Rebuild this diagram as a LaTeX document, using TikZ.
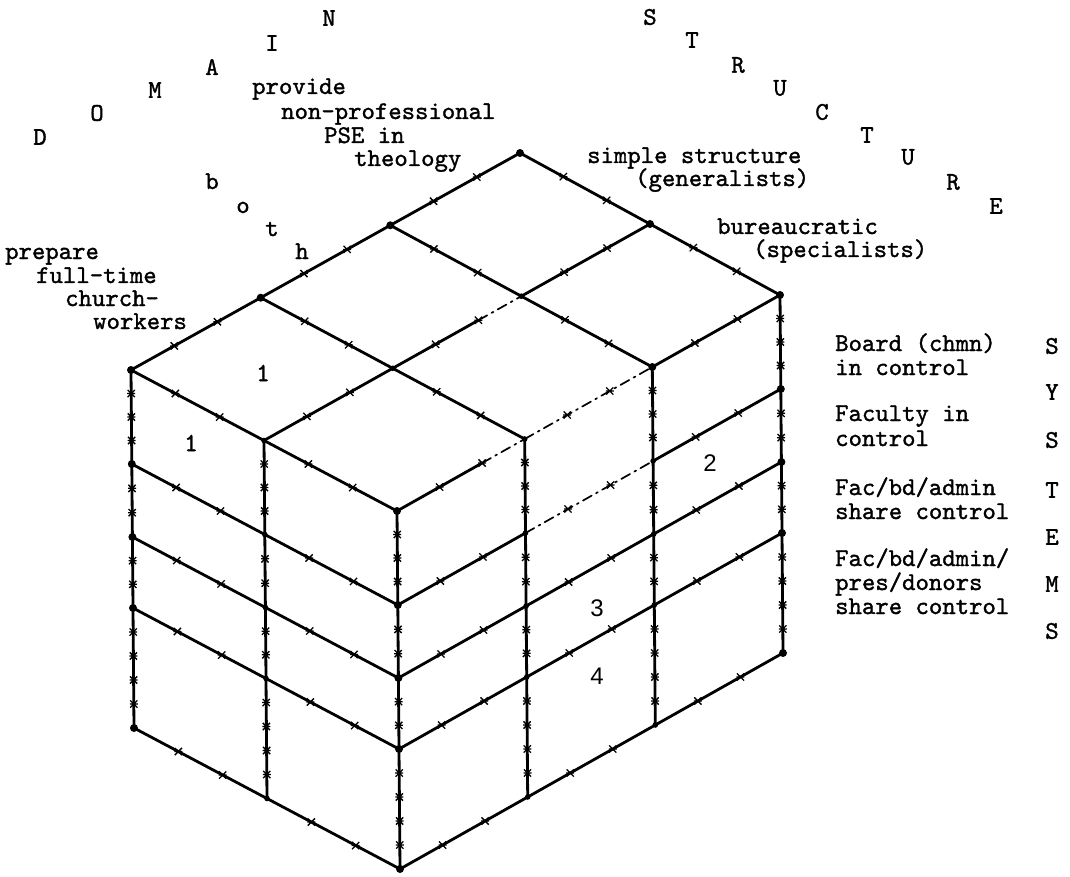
\documentclass[tikz,border=0pt]{standalone}
\usepackage{fontspec}
\setsansfont{Liberation Sans}
\newfontfamily\twfont[FakeBold=1.3]{lmmono10-regular.otf}
\usetikzlibrary{calc}
\newcommand\gtk[3]{%
  \foreach \k in {1,...,#3}{%
    \draw[tkm] ($(#1)!{\k/(#3+1)}!(#2)$) +(-3.6,-3.6) -- +(3.6,3.6) +(-3.6,3.6) -- +(3.6,-3.6) +(-4,0) -- +(4,0);
  }%
}
\newcommand\gseg[4][]{%
  \draw[ln,#1] (#2) -- (#3);
  \gtk{#2}{#3}{#4}%
}
\begin{document}
\begin{tikzpicture}[x=1pt,y=-1pt,
  ln/.style={line width=2.8pt, line cap=round, line join=round},
  dd/.style={line width=1.7pt, dash pattern=on 10pt off 5pt on 2pt off 5pt},
  tkm/.style={line width=1.3pt},
  txt/.style={font=\twfont\fontsize{25.5}{24}\selectfont, inner sep=0pt, anchor=base west},
  ltr/.style={font=\twfont\fontsize{25.5}{24}\selectfont, inner sep=0pt, anchor=center},
  ltrb/.style={font=\twfont\fontsize{25.5}{24}\selectfont, inner sep=0pt, anchor=base},
  num/.style={font=\sffamily\fontsize{24}{24}\selectfont, inner sep=0pt, anchor=center},
  numt/.style={font=\twfont\fontsize{26}{24}\selectfont, inner sep=0pt, anchor=center},
]
\useasboundingbox (0,0) rectangle (1070,877);

% top face grid points p{u}{v}{w}
\coordinate (p000) at (397,511);   \coordinate (p100) at (524.7,439);
\coordinate (p200) at (652.3,367); \coordinate (p300) at (780,295);
\coordinate (p010) at (264,440.5); \coordinate (p110) at (392.7,368.3);
\coordinate (p210) at (521.3,296.2); \coordinate (p310) at (650,224);
\coordinate (p020) at (131,370);   \coordinate (p120) at (260.7,297.7);
\coordinate (p220) at (390.3,225.3); \coordinate (p320) at (520,153);

\foreach \w/\h/\d in {1/94/0.8, 2/167/1.4, 3/238/2, 4/358/3}{
  \foreach \u in {0,...,3}{\coordinate (p\u0\w) at ($(p\u00)+(\d,\h)$);}
  \foreach \v in {1,2}{\coordinate (p0\v\w) at ($(p0\v0)+(\d,\h)$);}
}

% ---- top face
\foreach \u in {0,...,3}{\gseg{p\u00}{p\u10}{2} \gseg{p\u10}{p\u20}{2}}
\gseg{p020}{p120}{2} \gseg{p120}{p220}{2} \gseg{p220}{p320}{2}
\gseg{p010}{p110}{2} \gseg{p210}{p310}{2}
\draw[ln] (p110) -- ($(p110)!0.667!(p210)$);
\draw[ln,dd] ($(p110)!0.667!(p210)$) -- (p210);
\gtk{p110}{p210}{2}
\draw[ln] (p000) -- ($(p000)!0.667!(p100)$);
\draw[ln,dd] ($(p000)!0.667!(p100)$) -- (p100);
\gtk{p000}{p100}{2}
\gseg[dd]{p100}{p200}{2}
\gseg{p200}{p300}{2}

% ---- front-right face
\foreach \u in {0,...,3}{\gseg{p\u00}{p\u01}{3} \gseg{p\u01}{p\u02}{2} \gseg{p\u02}{p\u03}{2} \gseg{p\u03}{p\u04}{4}}
\foreach \w in {1,...,4}{\gseg{p00\w}{p10\w}{2} \gseg{p20\w}{p30\w}{2}}
\foreach \w in {2,3,4}{\gseg{p10\w}{p20\w}{2}}
\gseg[dd]{p101}{p201}{2}

% ---- front-left face
\foreach \v in {1,2}{\gseg{p0\v0}{p0\v1}{3} \gseg{p0\v1}{p0\v2}{2} \gseg{p0\v2}{p0\v3}{2} \gseg{p0\v3}{p0\v4}{4}}
\foreach \w in {1,...,4}{\gseg{p00\w}{p01\w}{2} \gseg{p01\w}{p02\w}{2}}

% ---- vertex dots
\foreach \p in {p000,p001,p002,p003,p004,p020,p021,p022,p023,p024,p300,p301,p302,p303,p304,p200,p120,p220,p320,p310}
  \fill (\p) circle (4pt);
\foreach \p in {p100,p010,p110,p210,p011,p012,p013,p014,p101,p102,p103,p104,p201,p202,p203,p204}
  \fill (\p) circle (2.8pt);

% ---- DOMAIN
\node[ltr] (dD) at (40,137) {D};
\node[ltr] (dO) at (97,113) {O};
\node[ltr] (dM) at (155,90) {M};
\node[ltr] (dA) at (212,67) {A};
\node[ltr] (dI) at (272,43) {I};
\node[ltr] (dN) at (329,18) {N};
\node[ltrb] (bb) at (212,189) {b};
\node[ltrb] (bo) at (243,213) {o};
\node[ltrb] (bt) at (272,236) {t};
\node[ltrb] (bh) at (302,259) {h};
\node[txt] (pr1) at (252,94) {provide};
\node[txt] (pr2) at (281,119) {non-professional};
\node[txt] (pr3) at (324,143) {PSE in};
\node[txt] (pr4) at (354,166) {theology};
\node[txt] (pp1) at (5,259) {prepare};
\node[txt] (pp2) at (36,283) {full-time};
\node[txt] (pp3) at (65,306) {church-};
\node[txt] (pp4) at (93,329) {workers};

% ---- STRUCTURE
\node[ltr] (s1) at (650,17) {S};
\node[ltr] (s2) at (692,40) {T};
\node[ltr] (s3) at (738,65) {R};
\node[ltr] (s4) at (780,88) {U};
\node[ltr] (s5) at (822,112) {C};
\node[ltr] (s6) at (867,135) {T};
\node[ltr] (s7) at (908,157) {U};
\node[ltr] (s8) at (953,182) {R};
\node[ltr] (s9) at (996,206) {E};
\node[txt] (ss1) at (587,163) {simple structure};
\node[txt] (ss2) at (635,186) {(generalists)};
\node[txt] (sb1) at (717,234) {bureaucratic};
\node[txt] (sb2) at (753,257) {(specialists)};

% ---- SYSTEMS
\node[ltr] (y1) at (1052,346) {S};
\node[ltr] (y2) at (1052,392) {Y};
\node[ltr] (y3) at (1052,440) {S};
\node[ltr] (y4) at (1052,490) {T};
\node[ltr] (y5) at (1052,537) {E};
\node[ltr] (y6) at (1052,584) {M};
\node[ltr] (y7) at (1052,631) {S};
\node[txt] (c1) at (835,351) {Board (chmn)};
\node[txt] (c2) at (835,375) {in control};
\node[txt] (c3) at (835,421) {Faculty in};
\node[txt] (c4) at (835,446) {control};
\node[txt] (c5) at (835,495) {Fac/bd/admin};
\node[txt] (c6) at (835,519) {share control};
\node[txt] (c7) at (835,566) {Fac/bd/admin/};
\node[txt] (c8) at (835,590) {pres/donors};
\node[txt] (c9) at (835,614) {share control};

% ---- cell numbers
\node[numt] (n1a) at (263,373) {1};
\node[numt] (n1b) at (191,443) {1};
\node[num] (n2) at (710,463) {2};
\node[num] (n3) at (597,608) {3};
\node[num] (n4) at (597,676) {4};
\end{tikzpicture}
\end{document}
